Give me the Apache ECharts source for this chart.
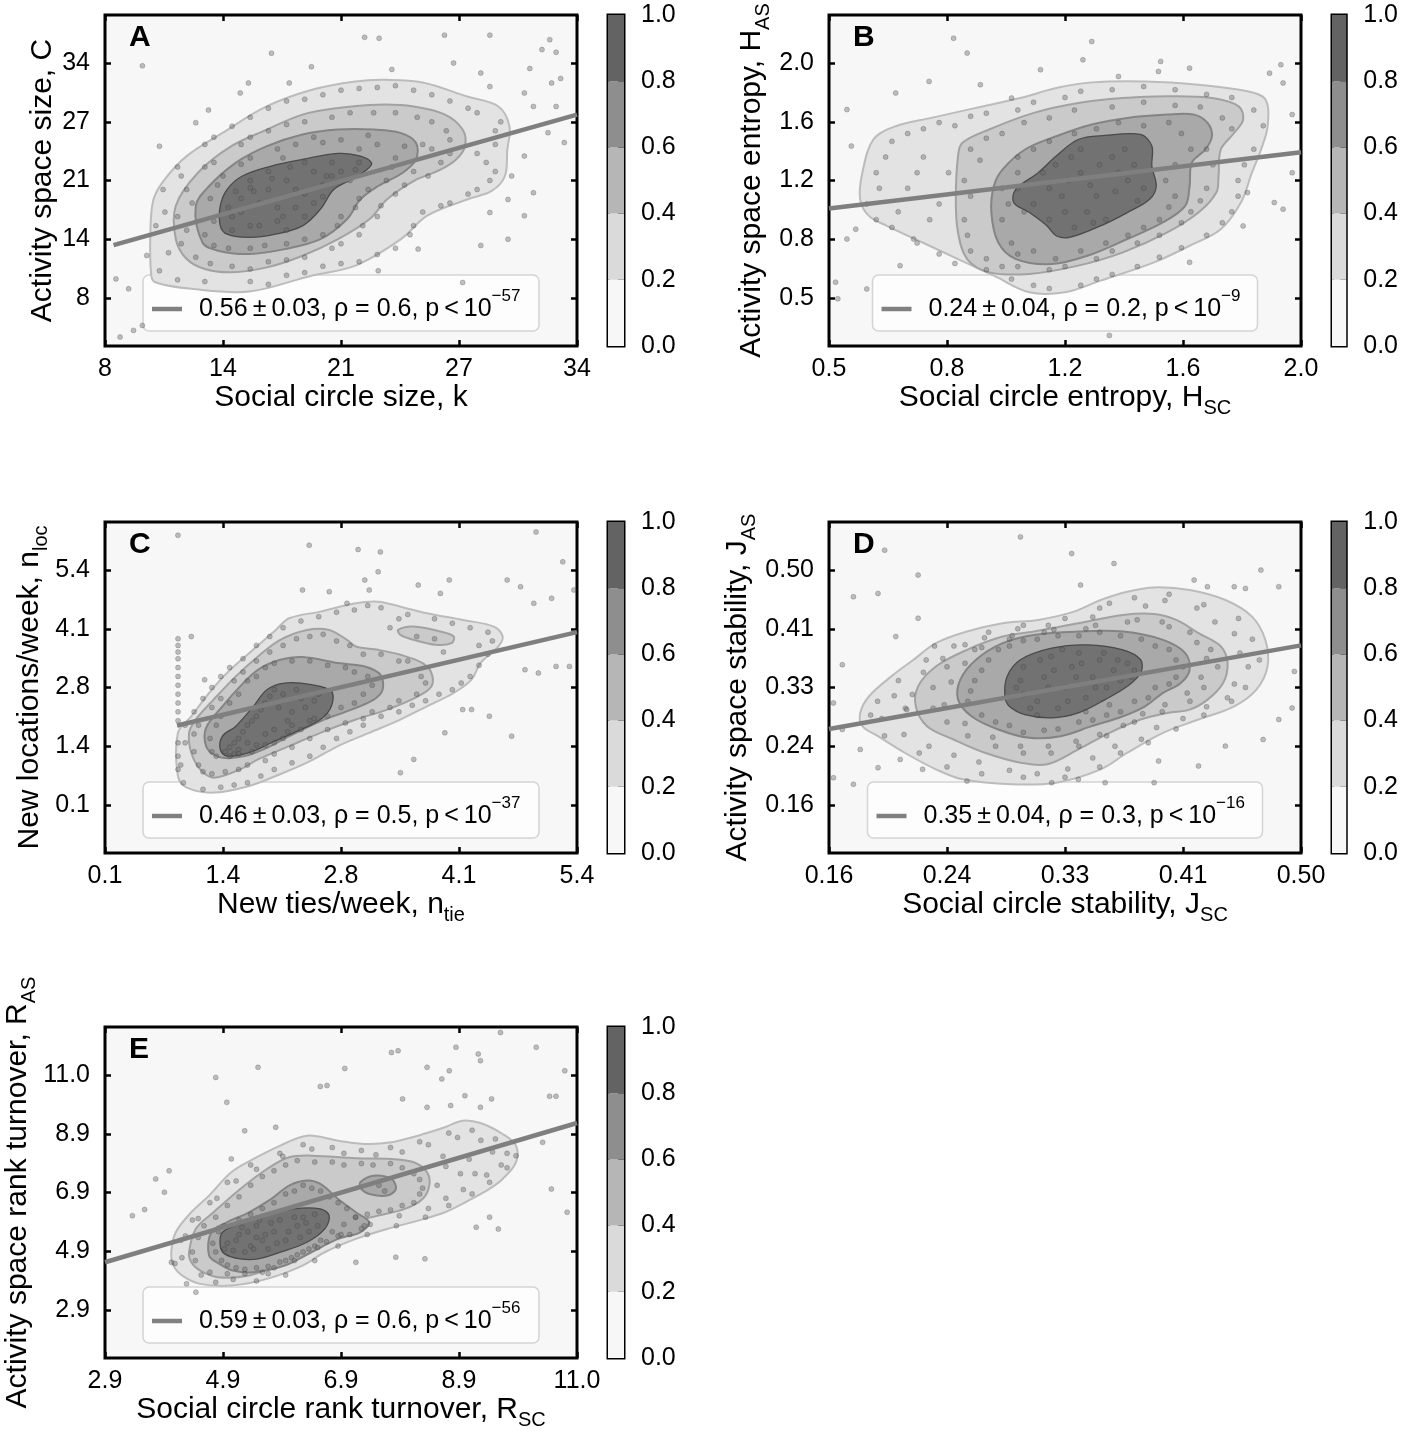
<!DOCTYPE html>
<html>
<head>
<meta charset="utf-8">
<script src="https://cdn.jsdelivr.net/npm/echarts@6/dist/echarts.min.js"></script>
<style>
  html, body { margin: 0; padding: 0; background: #fff; }
  #chart { width: 1401px; height: 1437px; }
</style>
</head>
<body>
<div id="chart"></div>
<script>
// ---- tick values (evenly spaced) and the labels printed on them ----
const ticksA = [8, 14.5, 21, 27.5, 34];
const tickLabelsA = ['8', '14', '21', '27', '34'];
const ticksB = [0.5, 0.875, 1.25, 1.625, 2.0];
const tickLabelsB = ['0.5', '0.8', '1.2', '1.6', '2.0'];
const ticksC = [0.1, 1.425, 2.75, 4.075, 5.4];
const tickLabelsC = ['0.1', '1.4', '2.8', '4.1', '5.4'];
const ticksD = [0.16, 0.245, 0.33, 0.415, 0.50];
const tickLabelsD = ['0.16', '0.24', '0.33', '0.41', '0.50'];
const ticksE = [2.9, 4.925, 6.95, 8.975, 11.0];
const tickLabelsE = ['2.9', '4.9', '6.9', '8.9', '11.0'];

// ---- axis titles ----
const xTitleA = '{m|Social circle size, k}';
const yTitleA = '{m|Activity space size, C}';
const xTitleB = '{m|Social circle entropy, H}{sub|SC}';
const yTitleB = '{m|Activity space entropy, H}{sub|AS}';
const xTitleC = '{m|New ties/week, n}{sub|tie}';
const yTitleC = '{m|New locations/week, n}{sub|loc}';
const xTitleD = '{m|Social circle stability, J}{sub|SC}';
const yTitleD = '{m|Activity space stability, J}{sub|AS}';
const xTitleE = '{m|Social circle rank turnover, R}{sub|SC}';
const yTitleE = '{m|Activity space rank turnover, R}{sub|AS}';

// ---- fit legends ----
const fitTextA = '0.56\u2009±\u20090.03, ρ = 0.6, p\u2009<\u200910';
const fitTextB = '0.24\u2009±\u20090.04, ρ = 0.2, p\u2009<\u200910';
const fitTextC = '0.46\u2009±\u20090.03, ρ = 0.5, p\u2009<\u200910';
const fitTextD = '0.35\u2009±\u20090.04, ρ = 0.3, p\u2009<\u200910';
const fitTextE = '0.59\u2009±\u20090.03, ρ = 0.6, p\u2009<\u200910';
const fitExp = ['−57', '−9', '−37', '−16', '−56'];

// ---- regression lines (end points) ----
const fitA = [[8.47, 13.85], [34, 28.3]];
const fitB = [[0.5, 1.071], [2.0, 1.431]];
const fitC = [[0.909, 1.892], [5.4, 4.0]];
const fitD = [[0.16, 0.270], [0.50, 0.391]];
const fitE = [[2.9, 4.544], [11.0, 9.348]];

// ---- density contours: [level, polygon] ----
const contourA = [
  [1, [[10.55,10.46],[10.5,15.24],[10.67,18.9],[11.28,21.1],[12.5,23.7],[14.47,26.27],[16.9,29.2],[19.4,31.05],[21.8,31.97],[23.5,32.15],[25.5,31.86],[27.95,30.3],[29.67,29.2],[30.28,27.0],[30.16,24.4],[30.03,21.5],[29.3,19.84],[27.95,18.9],[25.75,17.1],[24.3,14.5],[21.8,11.57],[19.37,10.46],[15.94,8.7],[12.75,9.0],[10.8,9.7]]],
  [2, [[11.9,14.5],[11.9,18.2],[13.12,21.86],[14.96,24.8],[16.92,26.64],[18.88,28.3],[20.84,29.03],[23.05,29.4],[25.0,29.2],[26.73,28.3],[27.7,26.64],[27.83,24.8],[27.34,23.33],[26.48,22.2],[25.0,20.94],[23.54,18.92],[22.56,16.7],[20.84,14.5],[18.88,12.67],[16.92,11.38],[14.96,10.83],[13.5,11.2],[12.5,12.3]]],
  [3, [[13.37,14.14],[13.0,18.18],[13.74,20.39],[15.2,22.96],[16.92,24.8],[18.88,26.09],[20.84,26.64],[22.8,26.64],[24.27,26.27],[25.13,25.17],[25.13,23.33],[24.4,21.86],[23.05,20.39],[22.07,18.92],[21.33,16.71],[19.86,14.5],[17.9,13.4],[15.94,12.85],[14.23,13.22]]],
  [4, [[14.35,15.98],[14.35,18.18],[14.72,20.0],[15.57,21.5],[17.17,22.6],[18.88,23.33],[20.84,24.0],[22.07,23.7],[22.68,22.96],[22.44,22.23],[21.58,21.13],[20.6,20.0],[19.86,17.8],[18.88,15.98],[17.4,15.06],[15.94,14.7],[14.72,15.06]]]
];
const contourB = [
  [1, [[0.627,1.024],[0.599,1.13],[0.606,1.30],[0.641,1.512],[0.712,1.597],[0.825,1.65],[0.967,1.714],[1.108,1.777],[1.222,1.841],[1.335,1.877],[1.505,1.883],[1.674,1.862],[1.83,1.82],[1.887,1.767],[1.894,1.597],[1.873,1.448],[1.844,1.30],[1.809,1.109],[1.745,0.939],[1.646,0.833],[1.533,0.727],[1.363,0.61],[1.25,0.536],[1.137,0.536],[1.024,0.642],[0.91,0.748],[0.797,0.854],[0.684,0.96]]],
  [2, [[0.903,1.13],[0.91,1.406],[0.924,1.491],[1.009,1.576],[1.151,1.682],[1.292,1.745],[1.434,1.777],[1.575,1.788],[1.717,1.777],[1.802,1.724],[1.816,1.639],[1.788,1.555],[1.745,1.448],[1.738,1.279],[1.731,1.173],[1.674,1.045],[1.575,0.918],[1.434,0.791],[1.292,0.706],[1.137,0.653],[1.009,0.663],[0.939,0.748],[0.91,0.918]]],
  [3, [[1.016,1.045],[1.024,1.215],[1.052,1.321],[1.123,1.448],[1.222,1.533],[1.335,1.608],[1.448,1.65],[1.575,1.671],[1.66,1.671],[1.703,1.618],[1.717,1.533],[1.696,1.448],[1.653,1.364],[1.646,1.215],[1.632,1.088],[1.561,0.982],[1.448,0.876],[1.321,0.769],[1.208,0.716],[1.094,0.748],[1.038,0.854]]],
  [4, [[1.087,1.109],[1.094,1.194],[1.165,1.30],[1.222,1.406],[1.292,1.512],[1.377,1.538],[1.49,1.544],[1.526,1.47],[1.526,1.342],[1.54,1.215],[1.519,1.13],[1.448,1.045],[1.363,0.96],[1.264,0.886],[1.222,0.897],[1.193,0.96],[1.137,1.045]]]
];
const contourC = [
  [1, [[0.919,1.727],[1.069,2.101],[1.269,2.626],[1.469,3.076],[1.718,3.526],[2.018,4.05],[2.168,4.313],[2.518,4.463],[2.917,4.65],[3.167,4.688],[3.417,4.575],[3.716,4.425],[4.116,4.275],[4.466,4.125],[4.566,3.9],[4.516,3.676],[4.316,3.3],[4.216,2.926],[4.016,2.626],[3.716,2.326],[3.417,2.026],[3.067,1.727],[2.717,1.427],[2.368,1.052],[2.018,0.752],[1.718,0.527],[1.319,0.377],[1.019,0.49],[0.919,0.752]]],
  [2, [[1.069,1.277],[1.044,1.727],[1.119,2.026],[1.319,2.476],[1.569,3.001],[1.818,3.451],[2.068,3.826],[2.368,4.05],[2.617,4.05],[2.817,3.826],[2.917,3.676],[3.167,3.6],[3.417,3.488],[3.666,3.3],[3.766,3.076],[3.766,2.776],[3.616,2.551],[3.267,2.251],[2.917,2.026],[2.518,1.727],[2.168,1.427],[1.818,1.127],[1.618,0.902],[1.319,0.715],[1.169,0.902]]],
  [2, [[3.392,4.05],[3.567,4.125],[3.866,4.013],[4.016,3.9],[3.991,3.751],[3.816,3.713],[3.567,3.826],[3.417,3.938]]],
  [3, [[1.219,1.577],[1.244,1.877],[1.419,2.326],[1.618,2.776],[1.818,3.151],[2.068,3.376],[2.318,3.436],[2.717,3.301],[3.017,3.226],[3.192,3.039],[3.217,2.701],[3.117,2.476],[2.867,2.251],[2.518,1.989],[2.168,1.652],[1.918,1.389],[1.668,1.202],[1.419,1.164],[1.269,1.314]]],
  [4, [[1.394,1.352],[1.419,1.652],[1.569,1.877],[1.768,2.326],[1.918,2.701],[2.118,2.851],[2.418,2.814],[2.642,2.664],[2.642,2.326],[2.518,2.026],[2.218,1.727],[1.968,1.502],[1.718,1.277],[1.469,1.202]]]
];
const contourD = [
  [1, [[0.1825,0.2932],[0.1889,0.3173],[0.2049,0.3461],[0.2209,0.3702],[0.237,0.3942],[0.2594,0.411],[0.2851,0.423],[0.3108,0.4279],[0.3364,0.4399],[0.3557,0.4567],[0.3749,0.4687],[0.3942,0.475],[0.4198,0.4711],[0.4455,0.4567],[0.4647,0.4327],[0.4743,0.399],[0.4759,0.3605],[0.4679,0.3269],[0.4519,0.3028],[0.4262,0.2836],[0.4006,0.2644],[0.3749,0.2355],[0.3557,0.2115],[0.3236,0.1922],[0.2915,0.1898],[0.2562,0.197],[0.237,0.2115],[0.2145,0.2355],[0.1953,0.2595],[0.1841,0.274]]],
  [2, [[0.2225,0.3028],[0.2242,0.3317],[0.237,0.3605],[0.2594,0.3846],[0.2851,0.4038],[0.3075,0.411],[0.3396,0.4231],[0.3717,0.4351],[0.3942,0.4365],[0.4102,0.4279],[0.4262,0.4086],[0.4423,0.3894],[0.4471,0.3653],[0.4439,0.3365],[0.4327,0.3124],[0.4198,0.298],[0.4038,0.2932],[0.3845,0.2836],[0.3621,0.2644],[0.3396,0.2403],[0.3172,0.2187],[0.2979,0.2211],[0.2723,0.2355],[0.2498,0.2547],[0.2306,0.274]]],
  [3, [[0.253,0.3124],[0.2546,0.3413],[0.2659,0.3702],[0.2851,0.3942],[0.3075,0.4062],[0.3396,0.411],[0.3717,0.411],[0.4006,0.399],[0.4166,0.3798],[0.4198,0.3557],[0.4134,0.3365],[0.4006,0.3221],[0.3877,0.3028],[0.3717,0.2884],[0.3492,0.274],[0.3268,0.2595],[0.3043,0.2571],[0.2819,0.2692],[0.2626,0.2884]]],
  [4, [[0.2867,0.3173],[0.2883,0.3461],[0.2979,0.3702],[0.3204,0.387],[0.346,0.3918],[0.3717,0.3846],[0.3845,0.3702],[0.3845,0.3509],[0.3749,0.3317],[0.3589,0.3124],[0.3396,0.2932],[0.3204,0.286],[0.3011,0.2908],[0.2899,0.3028]]]
];
const contourE = [
  [1, [[4.037,4.889],[4.114,5.578],[4.381,6.268],[4.686,6.843],[5.068,7.647],[5.45,8.107],[5.908,8.567],[6.366,8.911],[6.9,8.739],[7.358,8.624],[7.816,8.682],[8.274,8.911],[8.732,9.199],[9.037,9.429],[9.343,9.348],[9.724,8.969],[9.953,8.567],[9.953,7.992],[9.724,7.417],[9.496,7.072],[9.19,6.728],[8.732,6.268],[8.274,5.98],[7.74,5.693],[7.205,5.348],[6.671,4.889],[6.289,4.429],[5.679,3.969],[5.068,3.739],[4.534,3.797],[4.228,4.084],[4.076,4.429]]],
  [2, [[4.343,4.889],[4.457,5.693],[4.763,6.268],[5.221,7.072],[5.679,7.762],[6.06,8.164],[6.442,8.222],[7.205,8.13],[7.816,8.107],[8.198,7.992],[8.427,7.647],[8.465,7.187],[8.35,6.728],[8.045,6.383],[7.587,6.153],[7.129,5.923],[6.671,5.463],[6.289,4.889],[5.831,4.429],[5.373,4.084],[4.839,4.026],[4.534,4.256],[4.381,4.544]]],
  [3, [[7.282,7.302],[7.511,7.532],[7.816,7.417],[7.892,7.072],[7.74,6.843],[7.434,6.9],[7.297,7.072]]],
  [3, [[4.686,4.774],[4.724,5.578],[4.992,5.923],[5.373,6.268],[5.755,6.728],[6.06,7.187],[6.366,7.36],[6.595,7.245],[6.9,6.728],[7.205,6.268],[7.434,5.923],[7.282,5.578],[6.9,5.348],[6.442,4.889],[5.984,4.429],[5.45,4.199],[5.092,4.256],[4.863,4.486]]],
  [4, [[4.877,5.118],[4.915,5.578],[5.221,5.866],[5.679,6.153],[6.137,6.383],[6.595,6.383],[6.747,6.153],[6.671,5.693],[6.366,5.233],[5.908,4.889],[5.527,4.659],[5.221,4.659],[4.953,4.831]]]
];

// ---- individual users (scatter) ----
const pointsA = [
  [10.06,33.7],[17.17,35.1],[22.3,36.86],[23.1,36.75],[26.7,37.1],[29.2,37.1],[32.5,36.6],[32.07,35.5],[32.85,35.2],[31.4,33.4],[27.2,34.0],[33.1,32.3],[32.6,31.8],[28.7,32.9],[29.2,31.4],[31.1,30.7],[31.6,29.2],[32.85,29.2],[32.4,26.3],[33.3,25.2],[31.1,23.7],[30.4,21.5],[31.6,19.65],[30.2,18.9],[29.2,17.45],[31.1,17.1],[28.7,13.8],[30.2,14.5],[25.25,13.4],[23.05,11.0],[27.7,9.7],[8.6,10.1],[9.3,9.0],[10.3,12.7],[10.06,4.95],[8.83,3.66],[9.57,4.4],[11.0,24.8],[13.7,28.8],[15.45,30.7],[15.9,31.8],[13.0,27.4],[19.37,33.6],[23.8,33.3],[18.15,31.8],
  [15,17],[15.5,19],[16,16],[16.5,18.5],[17,20],[17.5,16.5],[18,21],[18.5,18],[19,19.5],[19.5,22],[20,20.5],[20.5,23],[21,22],[21.5,21],[17,22],[16,21],[15,15.5],[18,15.5],[19,17],[14.8,18],[16.2,19.8],[20.2,21.5],[22,23],[17.8,23.5],
  [15.5,17.5],[16.5,16],[17.5,18],[18.5,20],[19.5,18.5],[20.5,21.5],[16,20.2],[17.2,21.2],[18.2,22.5],[21.8,22.2],[19,23],[15.2,19.8],[17.8,17],[20,19.2],
  [13.5,15],[13.8,19],[14.5,21.5],[16,23.5],[18.5,25],[21,25.5],[23,25],[24,23.5],[23.5,21],[22,19],[21,17],[20,15],[18,14],[16,13.5],[14,13.8],[24.5,24.8],[22.5,26],[19.5,25.8],
  [14,16.5],[14.2,20.5],[15.5,22.8],[17.5,24.5],[20,25.2],[22,24.5],[23.8,22.5],[22.5,20],[21.8,18],[20.8,16],[19,14.5],[16.8,13.8],[14.8,13.5],
  [12.2,14],[12,17],[12.5,20],[13.5,22.5],[15.5,25],[17,26.5],[19,27.5],[21.5,28.5],[24,28.5],[26,27.5],[27,25.5],[26.5,23],[25,22],[24,19.5],[23,17],[22,15],[20.5,13.5],[19,12.5],[17,12],[15,11.5],[13,12.5],[25.5,25],[26,24.5],
  [12.5,15.5],[12.8,18.5],[14,23],[16,25.8],[18,27.2],[20.5,28],[22.8,28.5],[25.2,28],[26.8,26.5],[27,24],[25.8,21.5],[24.5,20.5],[23.2,18.2],[22.2,16],[21,14],[18,12.2],[16,11.2],[13.8,11.8],
  [11,11],[10.8,16],[11.2,20],[12,22.5],[13.5,25],[15,27],[17,29],[19,30],[21,31],[23,31.3],[25,31],[27,29.8],[28.5,28.5],[29.5,26.5],[29,23],[29.2,21],[28,19.5],[27,18.5],[25.5,17.5],[25,16],[24,13.5],[22,12],[20,11.5],[18,10.5],[16,9.8],[13.5,9.8],[12,10],[28.5,24],[29.5,25],
  [11.5,13],[11.3,17.5],[12.2,21.5],[14,25.8],[16,28],[18,29.8],[20,30.5],[22,31.2],[24,31.5],[26,30.5],[28,29],[29.8,27.5],[29.5,22],[28.5,20],[26.5,18.2],[24.8,15],[23,12.8],[21,11.8],[19,10.8],[17,9.5]
];
const pointsB = [
  [0.896,2.159],[0.939,2.064],[1.335,2.138],[1.307,2.021],[1.172,1.958],[1.42,1.915],[1.554,2.011],[1.547,1.947],[1.646,1.968],[1.936,1.99],[1.9,1.936],[1.943,1.873],[1.972,1.671],[1.972,1.30],[1.915,1.109],[1.943,1.067],[1.816,0.96],[1.646,0.727],[1.83,1.173],[0.557,1.703],[0.571,1.47],[0.585,0.939],[0.557,0.876],[0.521,0.6],[0.62,0.557],[0.726,0.706],[0.769,0.876],[0.818,1.883],[0.981,1.862],[1.08,1.777],[0.712,1.809],[1.391,0.26],[0.528,0.494],
  [1.15,1.1],[1.2,1.2],[1.25,1.05],[1.3,1.3],[1.35,1.15],[1.4,1.4],[1.45,1.25],[1.3,1.45],[1.2,1.0],[1.38,1.0],[1.48,1.12],[1.22,1.35],[1.28,0.95],[1.42,1.3],[1.1,1.2],[1.33,1.22],
  [1.12,1.05],[1.18,1.3],[1.24,1.15],[1.27,1.4],[1.32,1.05],[1.36,1.35],[1.41,1.18],[1.44,1.45],[1.47,1.35],[1.5,1.2],[1.26,1.25],[1.34,0.98],
  [1.05,1.0],[1.05,1.2],[1.1,1.4],[1.2,1.5],[1.35,1.58],[1.5,1.6],[1.62,1.55],[1.6,1.35],[1.6,1.15],[1.55,1.0],[1.45,0.9],[1.3,0.8],[1.15,0.8],[1.08,0.85],
  [1.07,1.1],[1.1,1.3],[1.15,1.45],[1.28,1.55],[1.42,1.62],[1.58,1.62],[1.65,1.45],[1.57,1.25],[1.58,1.08],[1.5,0.95],[1.38,0.85],[1.22,0.75],[1.1,0.78],
  [0.95,0.8],[0.93,1.0],[0.93,1.25],[0.95,1.45],[1.05,1.55],[1.2,1.65],[1.4,1.72],[1.6,1.73],[1.75,1.65],[1.7,1.45],[1.7,1.2],[1.65,1.05],[1.55,0.9],[1.4,0.8],[1.2,0.68],[1.05,0.7],
  [0.94,0.9],[0.95,1.15],[0.98,1.38],[1.0,1.52],[1.12,1.62],[1.28,1.7],[1.5,1.75],[1.68,1.72],[1.78,1.58],[1.72,1.35],[1.68,1.12],[1.62,0.98],[1.48,0.85],[1.35,0.75],[1.25,0.7],[1.1,0.7],[1.0,0.75],
  [0.62,1.1],[0.65,1.3],[0.7,1.5],[0.8,1.58],[0.9,1.6],[1.0,1.68],[1.15,1.75],[1.3,1.82],[1.5,1.85],[1.7,1.8],[1.85,1.7],[1.85,1.45],[1.8,1.25],[1.78,1.05],[1.7,0.9],[1.55,0.76],[1.4,0.65],[1.3,0.58],[1.15,0.58],[1.0,0.68],[0.85,0.78],[0.7,0.95],[0.75,1.2],[0.8,1.4],[0.85,1.1],[0.72,1.05],
  [0.65,1.0],[0.66,1.2],[0.68,1.4],[0.75,1.55],[0.85,1.62],[0.95,1.66],[1.1,1.7],[1.25,1.78],[1.4,1.83],[1.6,1.83],[1.78,1.78],[1.88,1.6],[1.82,1.35],[1.8,1.15],[1.75,0.98],[1.62,0.82],[1.48,0.7],[1.35,0.62],[1.2,0.56],[1.08,0.62],[0.9,0.72],[0.78,0.85],[0.82,1.0],[0.88,1.3],[0.78,1.3]
];
const pointsC = [
  [0.919,6.187],[2.393,5.962],[2.942,5.865],[3.192,5.812],[3.167,5.362],[3.017,5.175],[3.067,4.95],[2.817,4.65],[4.616,5.175],[4.766,5.025],[4.94,6.262],[5.24,5.587],[5.115,4.763],[4.915,4.65],[5.365,4.95],[3.617,5.062],[3.866,4.875],[3.966,5.175],[2.618,4.913],[2.318,4.95],[1.069,3.9],[1.219,2.926],[4.216,2.251],[4.416,2.101],[4.666,1.652],[4.816,3.151],[4.966,3.076],[5.165,3.226],[5.315,3.226],[3.567,1.127],[3.417,0.827],[3.916,1.727],[4.116,2.251],
  [0.92,3.85],[0.92,3.7],[0.92,3.55],[0.92,3.4],[0.92,3.2],[0.92,3.0],[0.92,2.8],[0.92,2.6],[0.92,2.4],[0.92,2.2],[0.92,2.0],[0.92,1.5],[0.92,1.2],[0.92,0.9],
  [1.5,1.4],[1.6,1.6],[1.7,1.9],[1.8,2.1],[1.9,2.4],[2.0,1.8],[2.1,2.6],[2.2,2.2],[2.3,2.5],[2.4,2.0],[2.5,2.6],[1.55,1.25],[1.8,1.45],[2.0,2.7],[1.7,1.5],[2.2,1.9],
  [1.45,1.3],[1.55,1.5],[1.65,1.75],[1.75,2.0],[1.85,2.25],[1.95,2.55],[2.05,2.3],[2.15,2.0],[2.25,2.7],[2.35,2.3],[2.45,2.45],[1.9,1.7],[2.1,1.6],[1.6,1.35],
  [1.3,1.3],[1.35,1.9],[1.5,2.4],[1.7,2.9],[1.9,3.2],[2.2,3.35],[2.6,3.25],[2.9,3.1],[3.1,2.8],[2.9,2.4],[2.6,2.1],[2.3,1.8],[2.0,1.5],[1.75,1.3],[1.5,1.2],
  [1.28,1.6],[1.4,2.1],[1.6,2.6],[1.8,3.0],[2.0,3.3],[2.4,3.35],[2.8,3.2],[3.05,3.0],[3.0,2.6],[2.75,2.3],[2.45,2.05],[2.15,1.75],[1.9,1.45],[1.6,1.25],[1.35,1.2],
  [1.15,1.0],[1.1,1.7],[1.3,2.3],[1.55,2.9],[1.8,3.35],[2.1,3.7],[2.4,3.9],[2.7,3.8],[3.0,3.5],[3.4,3.35],[3.65,3.0],[3.6,2.6],[3.3,2.3],[3.0,2.05],[2.6,1.8],[2.2,1.4],[1.9,1.1],[1.6,0.9],[1.3,0.8],[3.6,3.9],[3.8,3.85],
  [1.1,1.3],[1.15,1.9],[1.4,2.5],[1.65,3.1],[1.95,3.55],[2.25,3.85],[2.55,3.95],[2.85,3.7],[3.2,3.5],[3.5,3.35],[3.7,2.85],[3.4,2.45],[3.1,2.2],[2.8,1.95],[2.4,1.6],[2.0,1.25],[1.7,1.0],[1.45,0.85],[1.2,0.85],
  [0.98,0.6],[1.0,1.5],[1.1,2.2],[1.3,2.75],[1.5,3.2],[1.8,3.7],[2.1,4.1],[2.5,4.35],[2.9,4.5],[3.2,4.55],[3.5,4.4],[4.0,4.2],[4.4,4.0],[4.4,3.5],[4.2,3.0],[4.0,2.7],[3.7,2.45],[3.4,2.2],[3.0,1.9],[2.7,1.6],[2.4,1.2],[2.0,0.9],[1.7,0.6],[1.4,0.5],[4.3,3.7],[3.3,4.1],[3.9,3.55],
  [0.95,1.0],[1.0,1.9],[1.2,2.5],[1.4,3.0],[1.65,3.4],[1.95,3.9],[2.3,4.25],[2.7,4.45],[3.05,4.6],[3.4,4.3],[3.8,4.3],[4.2,4.1],[4.45,3.8],[4.3,3.25],[4.1,2.85],[3.85,2.6],[3.55,2.35],[3.2,2.1],[2.85,1.75],[2.55,1.4],[2.2,1.05],[1.85,0.75],[1.55,0.55],[1.2,0.45]
];
const pointsD = [
  [0.2001,0.5289],[0.2979,0.5481],[0.3348,0.524],[0.3653,0.5096],[0.2242,0.4928],[0.4711,0.5],[0.423,0.4856],[0.4326,0.476],[0.4519,0.476],[0.46,0.4735],[0.484,0.476],[0.3412,0.4784],[0.1776,0.4615],[0.1953,0.4663],[0.2242,0.4303],[0.2081,0.4038],[0.1696,0.363],[0.4952,0.3533],[0.4936,0.3004],[0.484,0.2836],[0.4727,0.2547],[0.4455,0.2451],[0.4262,0.2163],[0.3974,0.2235],[0.1632,0.3076],[0.1696,0.2692],[0.1825,0.2403],[0.1632,0.1994],[0.1776,0.1898],[0.1953,0.2139],[0.2113,0.2259],[0.2274,0.2115],[0.2594,0.1946],[0.3396,0.197],[0.3204,0.1922],[0.3589,0.1922],[0.3942,0.1922],
  [0.295,0.33],[0.3,0.36],[0.31,0.31],[0.315,0.345],[0.32,0.375],[0.325,0.3],[0.33,0.33],[0.335,0.36],[0.34,0.38],[0.345,0.315],[0.35,0.345],[0.355,0.37],[0.36,0.33],[0.365,0.355],[0.37,0.34],[0.375,0.365],[0.31,0.29],[0.3,0.32],[0.345,0.295],[0.38,0.355],
  [0.298,0.34],[0.305,0.3],[0.312,0.37],[0.318,0.33],[0.328,0.385],[0.332,0.31],[0.338,0.345],[0.342,0.365],[0.352,0.33],[0.358,0.38],[0.362,0.305],[0.368,0.37],[0.378,0.345],[0.322,0.355],
  [0.26,0.31],[0.265,0.34],[0.275,0.37],[0.29,0.39],[0.31,0.4],[0.34,0.405],[0.37,0.405],[0.395,0.39],[0.41,0.37],[0.41,0.345],[0.395,0.33],[0.38,0.31],[0.36,0.29],[0.34,0.28],[0.315,0.268],[0.29,0.275],[0.27,0.29],
  [0.262,0.325],[0.27,0.355],[0.282,0.385],[0.3,0.398],[0.325,0.405],[0.355,0.41],[0.385,0.4],[0.405,0.385],[0.415,0.36],[0.405,0.335],[0.39,0.315],[0.37,0.295],[0.35,0.283],[0.325,0.27],[0.3,0.265],[0.28,0.28],
  [0.235,0.3],[0.235,0.33],[0.245,0.36],[0.265,0.385],[0.29,0.4],[0.315,0.41],[0.345,0.415],[0.375,0.425],[0.4,0.425],[0.42,0.41],[0.435,0.385],[0.44,0.36],[0.43,0.33],[0.42,0.31],[0.4,0.295],[0.38,0.28],[0.36,0.26],[0.34,0.245],[0.32,0.235],[0.3,0.235],[0.28,0.245],[0.26,0.26],[0.245,0.28],
  [0.243,0.305],[0.248,0.338],[0.258,0.365],[0.27,0.388],[0.292,0.405],[0.322,0.414],[0.352,0.42],[0.382,0.428],[0.405,0.418],[0.425,0.395],[0.432,0.372],[0.428,0.345],[0.418,0.322],[0.402,0.305],[0.386,0.292],[0.372,0.275],[0.355,0.262],[0.338,0.252],[0.318,0.245],[0.298,0.245],[0.278,0.258],[0.258,0.278],
  [0.19,0.29],[0.195,0.31],[0.21,0.34],[0.23,0.37],[0.25,0.39],[0.275,0.41],[0.3,0.42],[0.33,0.43],[0.355,0.445],[0.38,0.46],[0.405,0.465],[0.43,0.45],[0.455,0.43],[0.465,0.4],[0.47,0.37],[0.46,0.33],[0.45,0.31],[0.43,0.29],[0.41,0.27],[0.39,0.25],[0.37,0.235],[0.355,0.215],[0.33,0.2],[0.3,0.2],[0.27,0.205],[0.245,0.215],[0.225,0.235],[0.2,0.26],[0.215,0.3],[0.22,0.32],
  [0.198,0.285],[0.207,0.318],[0.216,0.298],[0.228,0.352],[0.242,0.372],[0.236,0.39],[0.258,0.392],[0.272,0.402],[0.296,0.415],[0.318,0.42],[0.35,0.432],[0.362,0.452],[0.388,0.448],[0.402,0.456],[0.425,0.445],[0.438,0.425],[0.452,0.408],[0.456,0.38],[0.462,0.36],[0.452,0.335],[0.447,0.315],[0.432,0.302],[0.415,0.285],[0.396,0.272],[0.385,0.255],[0.366,0.245],[0.35,0.228],[0.332,0.212],[0.31,0.205],[0.29,0.21],[0.268,0.222],[0.25,0.232],[0.232,0.245],[0.214,0.262]
];
const pointsE = [
  [4.8,10.92],[5.526,11.27],[4.99,10.06],[6.595,10.61],[6.71,10.64],[7.015,11.23],[7.816,11.78],[7.93,11.84],[8.427,11.27],[8.923,11.96],[9.305,11.73],[9.343,11.5],[9.687,12.47],[10.3,11.96],[8.808,11.15],[9.076,10.29],[9.343,9.89],[9.534,10.18],[10.53,10.27],[10.64,10.27],[10.79,11.15],[8.007,10.18],[8.427,9.89],[8.68,10.87],[8.832,9.95],[5.83,9.2],[5.297,9.08],[5.068,8.11],[4.0,7.7],[3.77,7.42],[3.92,6.96],[3.37,6.15],[3.58,6.36],[10.56,7.07],[10.83,6.27],[10.41,8.68],[9.953,8.22],[9.5,6.1],[9.65,5.69],[9.27,5.75],[7.89,4.72],[8.39,4.66],[7.205,4.54],[4.04,4.54],[4.46,3.51],[4.3,3.8],
  [5.0,5.2],[5.2,5.5],[5.4,5.1],[5.5,5.8],[5.6,5.3],[5.8,5.6],[5.9,6.0],[6.0,5.3],[6.2,5.8],[6.3,6.1],[6.4,5.6],[5.3,4.9],[5.7,5.0],[5.5,5.4],[6.5,6.2],[5.1,4.95],
  [4.95,5.0],[5.15,5.3],[5.35,5.6],[5.45,5.0],[5.65,5.5],[5.75,5.9],[5.85,5.2],[6.05,5.6],[6.15,6.1],[6.35,5.9],[6.55,5.8],[5.25,5.75],[5.55,6.0],[6.25,5.4],
  [4.8,4.9],[4.85,5.6],[5.2,6.0],[5.6,6.4],[6.0,6.9],[6.3,7.2],[6.6,7.0],[6.9,6.6],[7.2,6.1],[7.3,5.7],[6.9,5.45],[6.5,5.1],[6.1,4.7],[5.7,4.4],[5.3,4.3],[5.0,4.45],
  [4.75,5.2],[4.95,5.8],[5.4,6.2],[5.8,6.6],[6.15,7.0],[6.45,7.1],[6.75,6.8],[7.05,6.4],[7.35,5.8],[7.1,5.5],[6.7,5.25],[6.3,4.9],[5.9,4.55],[5.5,4.35],[5.15,4.35],[4.9,4.6],
  [4.45,4.6],[4.5,5.4],[4.8,6.1],[5.2,6.8],[5.6,7.5],[6.0,7.9],[6.5,8.0],[7.0,7.9],[7.5,7.9],[8.0,7.8],[8.3,7.4],[8.3,6.9],[8.0,6.5],[7.6,6.3],[7.2,6.1],[6.8,5.6],[6.4,5.0],[6.0,4.6],[5.6,4.2],[5.0,4.15],[7.6,7.2],[7.7,7.0],
  [4.4,4.9],[4.6,5.8],[5.0,6.5],[5.4,7.2],[5.8,7.7],[6.2,8.05],[6.8,8.0],[7.3,7.95],[7.8,7.95],[8.2,7.6],[8.35,7.1],[8.2,6.6],[7.8,6.35],[7.4,6.2],[7.0,5.85],[6.6,5.3],[6.2,4.8],[5.8,4.35],[5.3,4.15],[4.7,4.2],
  [4.1,4.5],[4.2,5.3],[4.4,6.0],[4.7,6.6],[5.0,7.3],[5.4,7.9],[5.9,8.3],[6.3,8.6],[6.8,8.5],[7.3,8.4],[7.8,8.5],[8.3,8.7],[8.8,9.0],[9.2,9.1],[9.6,8.8],[9.8,8.3],[9.8,7.8],[9.5,7.3],[9.2,6.9],[8.8,6.5],[8.4,6.1],[7.9,5.8],[7.4,5.5],[6.9,5.1],[6.5,4.6],[6.0,4.1],[5.5,3.9],[4.8,3.85],[8.7,8.2],[9.0,7.6],[8.6,7.2],
  [4.22,4.7],[4.28,5.45],[4.5,6.05],[4.82,6.75],[5.15,7.35],[5.5,7.75],[5.95,8.2],[6.45,8.45],[7.0,8.3],[7.55,8.25],[8.0,8.35],[8.45,8.6],[8.95,8.85],[9.35,8.75],[9.55,8.35],[9.7,7.9],[9.45,7.55],[9.05,7.05],[8.75,6.75],[8.45,6.4],[7.95,6.15],[7.45,5.85],[6.95,5.5],[6.55,5.05],[6.15,4.6],[5.7,4.15],[5.1,3.95],[4.55,4.1],[9.15,8.1],[8.75,7.85],[9.25,7.6]
];

// ---- colour bar ----
const cbBands = [[0, 0.2], [0.2, 0.4], [0.4, 0.6], [0.6, 0.8], [0.8, 1.0]];
const cbColors = ['#f7f7f7', '#dadada', '#b6b6b6', '#8e8e8e', '#636363'];
const cbLabels = [0, 0.2, 0.4, 0.6, 0.8, 1.0];
const cbTicks = [0.2, 0.4, 0.6, 0.8];

// contour fill / outline per level
const levelFill = ['#e3e3e3', '#cacaca', '#a9a9a9', '#727272'];
const levelStroke = ['#bcbcbc', '#a2a2a2', '#848484', '#4a4a4a'];

const panels = [
  { letter: 'A', ticks: ticksA, labels: tickLabelsA, xName: xTitleA, yName: yTitleA, contour: contourA, points: pointsA, fit: fitA, fitText: fitTextA },
  { letter: 'B', ticks: ticksB, labels: tickLabelsB, xName: xTitleB, yName: yTitleB, contour: contourB, points: pointsB, fit: fitB, fitText: fitTextB },
  { letter: 'C', ticks: ticksC, labels: tickLabelsC, xName: xTitleC, yName: yTitleC, contour: contourC, points: pointsC, fit: fitC, fitText: fitTextC },
  { letter: 'D', ticks: ticksD, labels: tickLabelsD, xName: xTitleD, yName: yTitleD, contour: contourD, points: pointsD, fit: fitD, fitText: fitTextD },
  { letter: 'E', ticks: ticksE, labels: tickLabelsE, xName: xTitleE, yName: yTitleE, contour: contourE, points: pointsE, fit: fitE, fitText: fitTextE }
];

// layout
const FONT = 'Liberation Sans, Arial, sans-serif';
const W = 472, H = 331, YPAD = 0.82;
const panelPos = [[105, 15], [829, 15], [105, 522], [829, 522], [105, 1027]];
const yNameGaps = [47, 56, 54, 70, 66];
const legendWidths = [396, 385, 396, 395, 396];

const nameStyle = {
  fontSize: 30, fontFamily: FONT, color: '#000',
  rich: {
    m: { fontSize: 30, fontFamily: FONT, color: '#000', verticalAlign: 'top' },
    sub: { fontSize: 20, fontFamily: FONT, color: '#000', verticalAlign: 'top', padding: [16, 0, 0, 0] }
  }
};
const tickLine = { color: '#000', width: 2.5 };
const noLine = { show: false, onZero: false };

const grid = [], xAxis = [], yAxis = [], series = [], graphic = [];

// scatter panels: grid i, x axes 2i (bottom) / 2i+1 (top), y axes 2i (left) / 2i+1 (right)
panels.forEach((p, i) => {
  const [left, top] = panelPos[i];
  const step = p.ticks[1] - p.ticks[0];
  const ymin = p.ticks[0] - YPAD * step;
  const ymax = p.ticks[4] + YPAD * step;
  const fmt = v => {
    const k = p.ticks.findIndex(t => Math.abs(t - v) < step * 1e-6);
    return k >= 0 ? p.labels[k] : '';
  };
  const tick = { show: true, inside: true, length: 6, lineStyle: tickLine, customValues: p.ticks };

  grid.push({ left, top, width: W, height: H, show: true, backgroundColor: '#f7f7f7', borderColor: '#000', borderWidth: 3 });

  xAxis.push({
    type: 'value', gridIndex: i, min: p.ticks[0], max: p.ticks[4], position: 'bottom',
    axisLine: noLine, splitLine: { show: false }, axisTick: tick,
    axisLabel: { customValues: p.ticks, formatter: fmt, fontSize: 25, fontFamily: FONT, color: '#000', margin: 11 },
    name: p.xName, nameLocation: 'middle', nameGap: 31, nameTextStyle: nameStyle
  });
  xAxis.push({
    type: 'value', gridIndex: i, min: p.ticks[0], max: p.ticks[4], position: 'top',
    axisLine: noLine, splitLine: { show: false }, axisTick: tick, axisLabel: { show: false }
  });
  yAxis.push({
    type: 'value', gridIndex: i, min: ymin, max: ymax, position: 'left',
    axisLine: noLine, splitLine: { show: false }, axisTick: tick,
    axisLabel: { customValues: p.ticks, formatter: fmt, fontSize: 25, fontFamily: FONT, color: '#000', margin: 15 },
    name: p.yName, nameLocation: 'middle', nameGap: yNameGaps[i], nameTextStyle: nameStyle
  });
  yAxis.push({
    type: 'value', gridIndex: i, min: ymin, max: ymax, position: 'right',
    axisLine: noLine, splitLine: { show: false }, axisTick: tick, axisLabel: { show: false }
  });

  const contour = p.contour;
  series.push({
    type: 'custom', xAxisIndex: 2 * i, yAxisIndex: 2 * i, clip: true, silent: true, z: 1,
    data: contour.map(c => c[1][0]),
    renderItem: (params, api) => {
      const c = contour[params.dataIndex];
      const lv = c[0] - 1;
      return {
        type: 'polygon',
        shape: { points: c[1].map(pt => api.coord(pt)), smooth: 0.35 },
        style: { fill: levelFill[lv], stroke: levelStroke[lv], lineWidth: lv === 3 ? 1.3 : 2 }
      };
    }
  });
  series.push({
    type: 'scatter', xAxisIndex: 2 * i, yAxisIndex: 2 * i, silent: true, z: 2,
    symbolSize: 5, data: p.points,
    itemStyle: { color: 'rgba(100,100,100,0.5)', borderColor: 'rgba(40,40,40,0.35)', borderWidth: 0.8 }
  });
  series.push({
    type: 'line', xAxisIndex: 2 * i, yAxisIndex: 2 * i, silent: true, z: 3,
    data: p.fit, showSymbol: false, symbol: 'none',
    lineStyle: { color: '#7f7f7f', width: 4.5 }
  });

  // panel letter
  graphic.push({ type: 'text', x: left + 24, y: top + 8, z: 50, style: { text: p.letter, font: 'bold 30px ' + FONT, fill: '#000', verticalAlign: 'top' } });

  // fit legend
  const lw = legendWidths[i];
  const lx = left + (W - lw) / 2, ly = top + H - 15 - 56;
  graphic.push({
    type: 'group', x: lx, y: ly, z: 60,
    children: [
      { type: 'rect', shape: { x: 0, y: 0, width: lw, height: 56, r: 6 }, style: { fill: 'rgba(255,255,255,0.75)', stroke: '#d4d4d4', lineWidth: 1.5 } },
      { type: 'line', shape: { x1: 9, y1: 34, x2: 39, y2: 34 }, style: { stroke: '#808080', lineWidth: 4.5 } },
      { type: 'text', x: 56, y: 29.5, style: {
          text: '{m|' + p.fitText + '}{s|' + fitExp[i] + '}', verticalAlign: 'middle',
          rich: {
            m: { fontSize: 25, fontFamily: FONT, fill: '#000', verticalAlign: 'top', padding: [9, 0, 0, 0] },
            s: { fontSize: 17, fontFamily: FONT, fill: '#000', verticalAlign: 'top' }
          }
      } }
    ]
  });
});

// colour bars: grid 5+i, axes 10+i
panels.forEach((p, i) => {
  const [left, top] = panelPos[i];
  grid.push({ left: left + 503, top, width: 16, height: H, show: true, borderColor: '#000', borderWidth: 3, backgroundColor: '#fff' });
  xAxis.push({ type: 'value', gridIndex: 5 + i, min: 0, max: 1, show: false, axisLine: noLine });
  yAxis.push({
    type: 'value', gridIndex: 5 + i, min: 0, max: 1, position: 'right',
    axisLine: noLine, splitLine: { show: false },
    axisTick: { show: true, inside: true, length: 6, lineStyle: { color: '#000', width: 3 }, customValues: cbTicks },
    axisLabel: { customValues: cbLabels, formatter: v => v.toFixed(1), fontSize: 25, fontFamily: FONT, color: '#000', margin: 17 }
  });
  series.push({
    type: 'custom', xAxisIndex: 10 + i, yAxisIndex: 10 + i, silent: true, z: 1,
    data: cbBands,
    renderItem: (params, api) => {
      const b = cbBands[params.dataIndex];
      const p0 = api.coord([0, b[1]]);
      const p1 = api.coord([1, b[0]]);
      return { type: 'rect', shape: { x: p0[0], y: p0[1], width: p1[0] - p0[0], height: p1[1] - p0[1] }, style: { fill: cbColors[params.dataIndex] } };
    }
  });
});

const chart = echarts.init(document.getElementById('chart'), null, { renderer: 'canvas' });
chart.setOption({
  animation: false,
  backgroundColor: '#fff',
  textStyle: { fontFamily: FONT },
  grid, xAxis, yAxis, series, graphic
});
</script>
</body>
</html>
